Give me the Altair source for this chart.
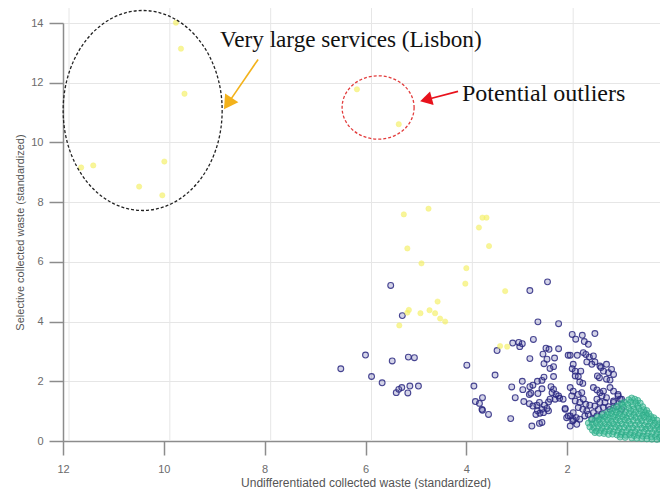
import altair as alt
import pandas as pd

# ---------------- data ----------------
# cluster "very large" (yellow)
yellow_x = [9.76, 9.66, 9.59, 11.64, 11.40, 9.99, 10.49, 10.03, 6.17, 5.34,
            5.24, 4.75, 3.68, 3.60, 3.75, 3.55, 5.17, 4.89, 4.00, 4.02,
            3.23, 4.57, 5.14, 5.17, 4.91, 4.73, 4.62, 4.52, 4.42, 5.33,
            3.33, 3.19]
yellow_y = [14.01, 13.14, 11.63, 9.16, 9.23, 9.36, 8.52, 8.23, 11.78, 10.61,
            7.59, 7.78, 7.48, 7.48, 7.15, 6.53, 6.45, 5.95, 5.79, 5.27,
            5.02, 4.67, 4.39, 4.30, 4.28, 4.38, 4.28, 4.10, 4.00, 3.87,
            3.18, 3.16]

# cluster "medium" (dark purple)
purple_x = [6.49, 6.00, 5.88, 5.67, 5.50, 5.27, 5.47, 5.15, 5.03, 5.39,
            5.34, 5.28, 5.16, 5.12, 4.95, 3.99, 3.85, 3.82, 3.74, 3.69,
            3.68, 3.56, 3.43, 3.39, 3.08, 2.96, 2.94, 2.89, 2.67, 2.74,
            2.39, 2.58, 2.17, 2.74, 2.42, 2.36, 2.48, 2.40, 2.46, 2.25,
            2.17, 2.34, 2.27, 3.10, 2.89, 2.88, 2.74, 2.68, 2.59, 2.50,
            2.46, 2.72, 2.75, 2.58, 2.50, 2.32, 2.27, 2.30, 2.22, 2.17,
            2.34, 2.24, 2.15, 2.37, 3.68, 3.03, 2.86, 2.75, 2.68, 2.60,
            2.55, 2.45, 2.40, 2.50, 2.59, 2.62, 2.54, 2.47, 2.37, 3.12,
            2.70, 2.55, 2.50, 2.04, 1.98, 2.27, 1.90, 1.83, 1.70, 1.66,
            1.58, 1.45, 1.94, 1.80, 1.68, 1.63, 1.56, 1.48, 1.45, 1.61,
            1.51, 1.88, 1.90, 1.84, 1.73, 1.78, 1.35, 1.28, 1.18, 1.12,
            1.08, 1.22, 1.15, 1.36, 1.75, 1.69, 1.94, 1.88, 1.91, 1.78,
            1.71, 1.68, 1.84, 1.75, 1.63, 1.55, 1.78, 1.69, 1.61, 1.88,
            1.94, 1.82, 1.89, 1.75, 1.65, 1.58, 1.48, 1.41, 1.35, 1.28,
            1.31, 1.22, 1.41, 1.35, 1.25, 1.45, 1.38, 1.28, 1.18, 1.48,
            1.41, 1.31, 1.51, 1.15, 1.08, 1.02, 0.95, 0.99, 1.08, 1.15,
            0.92, 2.08, 2.04, 2.01, 1.98, 1.22, 1.33, 1.40, 1.84, 1.88,
            1.81, 1.94, 0.99, 0.92, 1.08]
purple_y = [2.42, 2.88, 2.16, 1.95, 5.21, 4.20, 2.68, 2.81, 2.79, 1.62,
            1.73, 1.79, 1.61, 1.84, 1.84, 2.54, 1.84, 1.32, 1.26, 1.06,
            1.45, 0.89, 2.21, 3.03, 3.28, 3.30, 3.16, 3.26, 3.40, 5.04,
            5.33, 3.99, 3.93, 2.76, 3.11, 3.07, 2.91, 2.74, 2.59, 2.78,
            3.09, 2.43, 2.16, 1.81, 2.00, 1.72, 1.82, 1.87, 2.00, 2.03,
            2.14, 1.60, 1.56, 1.59, 1.75, 1.82, 1.73, 1.62, 1.56, 1.51,
            1.40, 1.40, 1.43, 1.31, 1.03, 1.45, 1.32, 1.25, 1.17, 1.20,
            1.29, 1.20, 1.09, 1.06, 1.01, 0.89, 0.93, 0.95, 1.01, 0.75,
            0.50, 0.59, 0.62, 1.06, 0.84, 2.49, 3.57, 3.41, 3.54, 3.33,
            3.24, 3.60, 2.87, 2.87, 2.96, 2.90, 2.81, 2.85, 2.65, 2.65,
            2.57, 2.57, 2.42, 2.34, 2.34, 2.16, 2.51, 2.34, 2.29, 2.40,
            2.23, 2.07, 2.04, 2.12, 1.98, 1.93, 1.79, 1.67, 1.51, 1.56,
            1.62, 1.40, 1.34, 1.29, 1.23, 1.20, 1.12, 1.06, 1.01, 0.95,
            0.84, 0.78, 0.67, 0.73, 0.84, 0.89, 1.79, 1.71, 1.62, 1.67,
            1.51, 1.45, 1.40, 1.29, 1.29, 1.17, 1.06, 1.12, 1.15, 0.95,
            0.84, 0.89, 0.73, 1.06, 1.29, 1.15, 1.40, 1.56, 1.67, 1.79,
            1.06, 1.40, 1.09, 0.78, 2.87, 2.57, 2.46, 2.18, 2.18, 0.72,
            0.56, 0.50, 1.51, 1.40, 1.34]

# cluster "small" (teal)
teal_x = [0.72, 0.66, 0.78, 0.60,
          0.86, 0.74, 0.64, 0.92, 0.55,
          1.00, 0.90, 0.80, 0.70, 0.60, 0.50,
          1.08, 0.98, 0.88, 0.78, 0.68, 0.58, 0.48, 0.42,
          1.18, 1.10, 1.02, 0.94, 0.84, 0.74, 0.64, 0.54, 0.45, 0.38,
          1.28, 1.20, 1.12, 1.04, 0.96, 0.86, 0.77, 0.68, 0.58, 0.50, 0.42, 0.34, 0.28,
          1.40, 1.33, 1.25, 1.16, 1.08, 0.99, 0.90, 0.82, 0.73, 0.64, 0.55, 0.47, 0.38, 0.30, 0.22,
          1.52, 1.45, 1.37, 1.29, 1.20, 1.12, 1.03, 0.95, 0.86, 0.78, 0.69, 0.60, 0.52, 0.43, 0.35, 0.26, 0.18, 0.12,
          1.58, 1.50, 1.42, 1.34, 1.25, 1.17, 1.08, 1.00, 0.91, 0.83, 0.74, 0.65, 0.56, 0.47, 0.39, 0.30, 0.21, 0.13, 0.06,
          1.55, 1.47, 1.38, 1.30, 1.21, 1.13, 1.04, 0.96, 0.87, 0.78, 0.70, 0.61, 0.52, 0.44, 0.35, 0.26, 0.18, 0.10, 0.03,
          1.50, 1.42, 1.33, 1.25, 1.16, 1.08, 0.99, 0.91, 0.82, 0.73, 0.65, 0.56, 0.48, 0.39, 0.31, 0.22, 0.14, 0.06,
          1.45, 1.36, 1.27, 1.18, 1.10, 1.01, 0.93, 0.84, 0.76, 0.67, 0.59, 0.50, 0.42, 0.33, 0.25, 0.17, 0.09, 0.02,
          0.95, 0.85, 0.72, 0.62, 0.52, 0.42, 0.32, 0.22, 0.12, 0.04]
teal_y = [1.44, 1.40, 1.38, 1.36,
          1.30, 1.31, 1.28, 1.26, 1.27,
          1.18, 1.20, 1.22, 1.19, 1.18, 1.15,
          1.10, 1.08, 1.12, 1.10, 1.07, 1.09, 1.05, 1.02,
          0.98, 1.01, 0.97, 1.00, 0.98, 1.01, 0.97, 0.99, 0.95, 0.92,
          0.90, 0.88, 0.91, 0.87, 0.90, 0.88, 0.91, 0.87, 0.90, 0.86, 0.85, 0.82, 0.78,
          0.80, 0.78, 0.81, 0.77, 0.80, 0.78, 0.81, 0.77, 0.80, 0.78, 0.76, 0.79, 0.74, 0.71, 0.70,
          0.70, 0.68, 0.71, 0.67, 0.70, 0.66, 0.69, 0.67, 0.70, 0.66, 0.68, 0.65, 0.67, 0.64, 0.62, 0.60, 0.58, 0.56,
          0.60, 0.57, 0.59, 0.56, 0.58, 0.55, 0.57, 0.54, 0.57, 0.54, 0.56, 0.53, 0.55, 0.52, 0.50, 0.51, 0.48, 0.46, 0.44,
          0.47, 0.45, 0.48, 0.45, 0.47, 0.44, 0.46, 0.43, 0.45, 0.42, 0.44, 0.41, 0.43, 0.40, 0.41, 0.38, 0.37, 0.35, 0.33,
          0.36, 0.33, 0.35, 0.32, 0.34, 0.31, 0.33, 0.30, 0.32, 0.29, 0.31, 0.28, 0.30, 0.27, 0.28, 0.25, 0.24, 0.22,
          0.28, 0.26, 0.25, 0.22, 0.23, 0.20, 0.22, 0.19, 0.21, 0.18, 0.19, 0.16, 0.17, 0.14, 0.15, 0.12, 0.11, 0.09,
          0.13, 0.12, 0.10, 0.09, 0.08, 0.07, 0.06, 0.05, 0.04, 0.03]

# axes / grid
x_ticks = [12, 10, 8, 6, 4, 2, 0]
y_ticks = [0, 2, 4, 6, 8, 10, 12, 14]
grid_x = [12, 10, 8, 6, 4, 2]
grid_y0 = [0, 0, 0, 0, 0, 0]
grid_y1 = [14.5, 14.5, 14.5, 14.5, 14.5, 14.5]

# annotations (data coordinates)
big_ellipse_x, big_ellipse_y = [10.42], [11.07]
red_ellipse_x, red_ellipse_y = [5.75], [11.17]
orange_arrow = {"x": [8.13], "y": [12.78], "x2": [8.73], "y2": [11.30]}
red_arrow = {"x": [4.165], "y": [11.71], "x2": [4.80], "y2": [11.43]}
label_texts = ["Very large services (Lisbon)", "Potential outliers"]
label_x = [8.885, 4.086]
label_y = [13.18, 11.39]
label_size = [23.2, 24]

XTITLE = "Undifferentiated collected waste (standardized)"
YTITLE = "Selective collected waste (standardized)"

# ---------------- styling ----------------
AX = "#8c8c8c"
xscale = alt.Scale(domain=[12, 0], zero=False, nice=False)
yscale = alt.Scale(domain=[0, 14], zero=False, nice=False)
xaxis = alt.Axis(values=x_ticks, title=XTITLE, grid=False, tickSize=14, tickWidth=1.5,
                 tickColor=AX, domainColor=AX, domainWidth=1.5, labelColor="#6b6b6b",
                 labelFont="Liberation Sans", labelFontSize=11, labelPadding=8,
                 labelFlush=False, labelOverlap=False, format="d",
                 titleFont="Liberation Sans", titleFontSize=12, titleFontWeight="normal",
                 titleColor="#555555", titlePadding=3)
yaxis = alt.Axis(values=y_ticks, title=YTITLE, grid=True, gridColor="#e6e6e6", gridWidth=1,
                 tickSize=14, tickWidth=1.5, tickColor=AX, domainColor=AX, domainWidth=1.5,
                 labelColor="#6b6b6b", labelFont="Liberation Sans", labelFontSize=11,
                 labelPadding=6, labelOverlap=False, format="d",
                 titleFont="Liberation Sans", titleFontSize=11, titleFontWeight="normal",
                 titleColor="#555555", titlePadding=5)


def X(f):
    return alt.X(f"{f}:Q", scale=xscale, axis=xaxis)


def Y(f):
    return alt.Y(f"{f}:Q", scale=yscale, axis=yaxis)


grid_df = pd.DataFrame({"x": grid_x, "y": grid_y0, "y2": grid_y1})
yellow_df = pd.DataFrame({"x": yellow_x, "y": yellow_y})
purple_df = pd.DataFrame({"x": purple_x, "y": purple_y})
teal_df = pd.DataFrame({"x": teal_x, "y": teal_y})

vgrid = alt.Chart(grid_df).mark_rule(color="#e6e6e6", strokeWidth=1, xOffset=6).encode(
    x=X("x"), y=Y("y"), y2="y2:Q")

purple = alt.Chart(purple_df).mark_point(
    filled=True, size=34, fill="#3c3a98", fillOpacity=0.22, stroke="#2a2880",
    strokeWidth=1.1, strokeOpacity=0.85, opacity=1).encode(x=X("x"), y=Y("y"))

teal = alt.Chart(teal_df).mark_point(
    filled=True, size=36, fill="#3cbb96", fillOpacity=0.5, stroke="#2aa784",
    strokeWidth=1, strokeOpacity=0.65, opacity=1).encode(x=X("x"), y=Y("y"))

yellow = alt.Chart(yellow_df).mark_point(
    filled=True, size=28, fill="#f4ef55", fillOpacity=0.6, stroke="#f6f17c",
    strokeWidth=1, strokeOpacity=0.5, opacity=1).encode(x=X("x"), y=Y("y"))

BIG_PATH = ("M 1 0 C 1 0.695 0.552 1.258 0 1.258 C -0.552 1.258 -1 0.695 -1 0 "
            "C -1 -0.695 -0.552 -1.258 0 -1.258 C 0.552 -1.258 1 -0.695 1 0 Z")
RED_PATH = ("M 1 0 C 1 0.486 0.552 0.88 0 0.88 C -0.552 0.88 -1 0.486 -1 0 "
            "C -1 -0.486 -0.552 -0.88 0 -0.88 C 0.552 -0.88 1 -0.486 1 0 Z")

big_ell = alt.Chart(pd.DataFrame({"x": big_ellipse_x, "y": big_ellipse_y})).mark_point(
    shape=BIG_PATH, size=25281, filled=False, stroke="#222222", strokeWidth=1.3,
    strokeDash=[3, 2], opacity=1).encode(x=X("x"), y=Y("y"))

red_ell = alt.Chart(pd.DataFrame({"x": red_ellipse_x, "y": red_ellipse_y})).mark_point(
    shape=RED_PATH, size=5184, filled=False, stroke="#e23b3b", strokeWidth=1.3,
    strokeDash=[3, 2], opacity=1).encode(x=X("x"), y=Y("y"))

oa_df = pd.DataFrame(orange_arrow)
ra_df = pd.DataFrame(red_arrow)
ORANGE = "#f3b21b"
RED = "#e8121c"

o_line = alt.Chart(oa_df).mark_rule(color=ORANGE, strokeWidth=1.6).encode(
    x=X("x"), y=Y("y"), x2="x2:Q", y2="y2:Q")
o_head = alt.Chart(oa_df).mark_point(shape="triangle-up", size=256, filled=True,
                                     color=ORANGE, angle=214, opacity=1).encode(
    x=X("x2"), y=Y("y2"))
r_line = alt.Chart(ra_df).mark_rule(color=RED, strokeWidth=1.6).encode(
    x=X("x"), y=Y("y"), x2="x2:Q", y2="y2:Q")
r_head = alt.Chart(ra_df).mark_point(shape="triangle-up", size=196, filled=True,
                                     color=RED, angle=255, opacity=1).encode(
    x=X("x2"), y=Y("y2"))

texts = alt.Chart(pd.DataFrame({"x": label_x, "y": label_y, "t": label_texts,
                                "fs": label_size})).mark_text(
    align="left", baseline="alphabetic", font="Liberation Serif",
    color="#111111").encode(x=X("x"), y=Y("y"), text="t:N",
                            size=alt.Size("fs:Q", scale=None, legend=None))

chart = alt.layer(
    vgrid, purple, teal, yellow, big_ell, red_ell, o_line, o_head, r_line, r_head, texts
).properties(
    width=605, height=418,
    autosize=alt.AutoSizeParams(type="none"),
    padding={"left": 55, "top": 15, "right": -8, "bottom": 48},
    background="white",
).configure_view(stroke=None)

chart.save("out.html", embed_options={"renderer": "svg", "actions": False})
